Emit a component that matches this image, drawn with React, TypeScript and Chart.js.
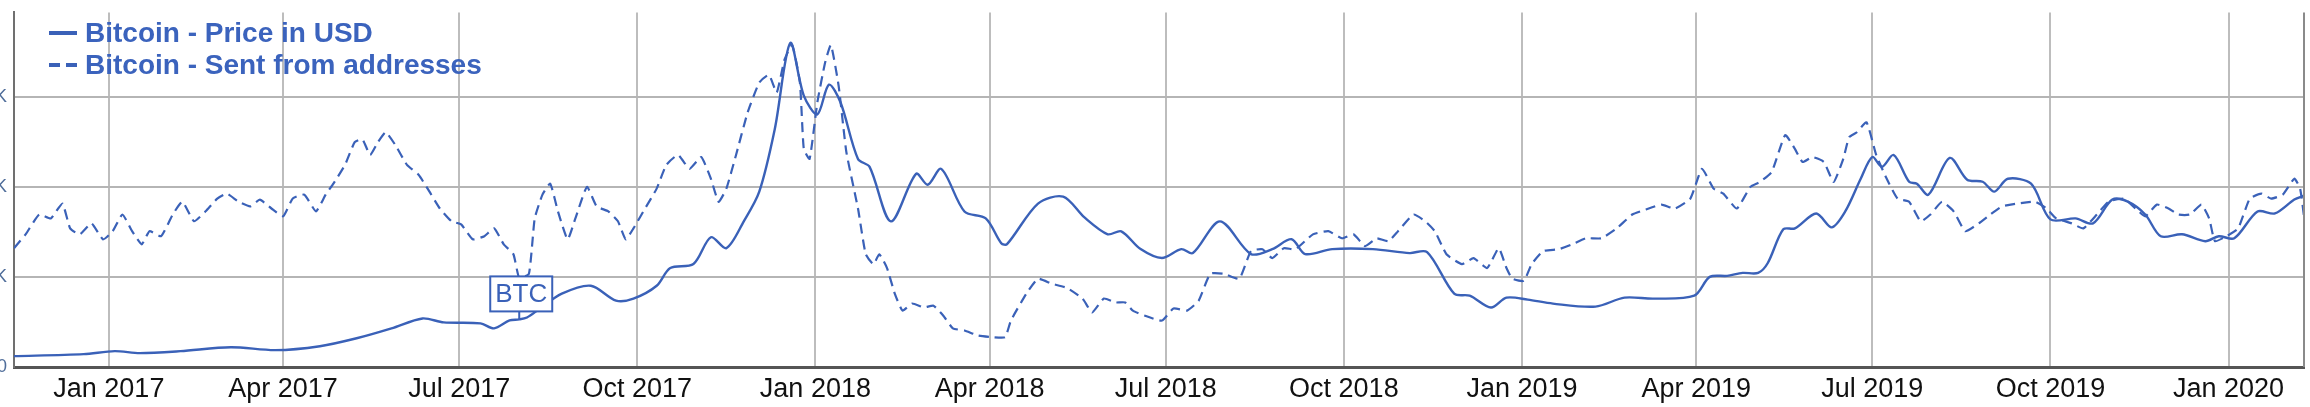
import React, { useEffect, useRef } from "react";
import { Chart, registerables } from "chart.js";

Chart.register(...registerables);

// x values are days counted from 1 Jan 2017
const quarterDays = [0, 90, 181, 273, 365, 455, 546, 638, 730, 820, 911, 1003, 1095];
const quarterLabels = [
  "Jan 2017", "Apr 2017", "Jul 2017", "Oct 2017", "Jan 2018", "Apr 2018", "Jul 2018",
  "Oct 2018", "Jan 2019", "Apr 2019", "Jul 2019", "Oct 2019", "Jan 2020",
];
const xMinDay = -49;
const xMaxDay = 1134;

const seriesLabels = ["Bitcoin - Price in USD", "Bitcoin - Sent from addresses"];

// Price in USD
const priceDays = [
  -49, -13, 3, 16, 37, 63, 86, 109, 128, 146,
  162, 173, 192, 199, 207, 212, 216, 222, 234, 249,
  262, 271, 283, 290, 302, 311, 319, 328, 336, 344,
  352, 359, 366, 372, 378, 387, 393, 404, 417, 423,
  430, 442, 453, 461, 464, 480, 493, 504, 516, 523,
  533, 544, 554, 560, 574, 590, 601, 611, 618, 632,
  653, 672, 681, 695, 703, 714, 722, 733, 746, 768,
  783, 798, 819, 827, 836, 844, 852, 857, 865, 871,
  882, 890, 897, 905, 911, 916, 922, 930, 934, 940,
  951, 960, 968, 974, 981, 993, 1003, 1016, 1025, 1035,
  1043, 1052, 1060, 1071, 1083, 1090, 1098, 1110, 1119, 1129,
  1134,
];
const priceValues = [
  604, 714, 879, 769, 879, 1099, 934, 1154, 1594, 2143,
  2693, 2473, 2418, 2143, 2583, 2640, 2748, 3187, 4066, 4506,
  3682, 3792, 4506, 5495, 5715, 7198, 6594, 8078, 9726, 13188,
  17969, 15056, 14012, 15661, 14672, 11540, 11100, 8078, 10715, 10111,
  10990, 8627, 8243, 6869, 6814, 9067, 9451, 8297, 7363, 7528,
  6539, 6045, 6539, 6319, 8078, 6264, 6539, 7089, 6264, 6539,
  6539, 6319, 6374, 4066, 3956, 3297, 3847, 3737, 3517, 3352,
  3847, 3792, 3956, 5000, 5055, 5220, 5220, 5770, 7638, 7693,
  8517, 7748, 8627, 10441, 11649, 11100, 11759, 10276, 10166, 9561,
  11594, 10386, 10276, 9726, 10441, 10166, 8187, 8243, 7968, 9287,
  9177, 8462, 7253, 7363, 6979, 7253, 7144, 8627, 8517, 9287,
  9506,
];

// Sent from addresses (thousands)
const sentDays = [
  -49, -43, -36, -30, -24, -20, -15, -9, -3, 2,
  7, 12, 17, 21, 27, 33, 38, 44, 50, 56,
  61, 67, 73, 78, 84, 90, 95, 101, 107, 112,
  116, 122, 127, 131, 135, 139, 143, 148, 154, 160,
  165, 171, 177, 182, 188, 194, 199, 204, 209, 212,
  217, 220, 224, 228, 232, 237, 241, 247, 252, 258,
  263, 267, 271, 277, 283, 288, 294, 300, 306, 311,
  315, 319, 324, 330, 336, 341, 345, 349, 353, 357,
  359, 362, 366, 370, 373, 377, 381, 387, 391, 395,
  398, 402, 406, 410, 415, 421, 426, 431, 436, 442,
  449, 457, 463, 466, 474, 480, 487, 495, 503, 508,
  514, 520, 525, 529, 535, 544, 550, 557, 563, 569,
  576, 584, 590, 596, 601, 607, 613, 622, 630, 637,
  643, 649, 655, 661, 666, 674, 680, 685, 691, 699,
  705, 712, 718, 722, 725, 731, 735, 741, 749, 756,
  763, 771, 779, 787, 794, 802, 809, 817, 823, 829,
  834, 841, 848, 853, 859, 866, 871, 875, 880, 886,
  891, 896, 899, 903, 908, 913, 918, 924, 930, 936,
  941, 947, 953, 959, 966, 972, 978, 986, 995, 1001,
  1006, 1014, 1020, 1027, 1033, 1041, 1047, 1052, 1058, 1064,
  1069, 1075, 1081, 1085, 1088, 1094, 1100, 1106, 1112, 1117,
  1123, 1129, 1132, 1134,
];
const sentValues = [
  535, 574, 630, 619, 661, 591, 574, 605, 560, 583,
  630, 583, 546, 583, 569, 630, 666, 611, 639, 675,
  689, 666, 653, 672, 647, 625, 675, 686, 639, 686,
  717, 770, 834, 842, 798, 834, 862, 826, 770, 742,
  700, 647, 611, 602, 560, 569, 591, 546, 518, 451,
  463, 619, 686, 717, 639, 560, 619, 708, 653, 639,
  611, 560, 591, 647, 703, 770, 798, 759, 792, 731,
  666, 703, 798, 918, 1002, 1024, 974, 1066, 1108, 1002,
  815, 787, 946, 1058, 1108, 993, 806, 647, 518, 490,
  518, 479, 407, 359, 379, 368, 373, 345, 309, 303,
  289, 284, 284, 331, 407, 449, 435, 423, 393, 354,
  393, 382, 382, 359, 345, 331, 365, 359, 387, 463,
  463, 449, 527, 532, 507, 535, 532, 574, 583, 563,
  574, 541, 563, 555, 583, 630, 611, 583, 518, 490,
  507, 479, 535, 479, 449, 443, 490, 527, 532, 546,
  563, 563, 591, 630, 644, 658, 647, 675, 759, 703,
  689, 647, 708, 722, 750, 854, 815, 778, 792, 778,
  722, 787, 848, 862, 890, 798, 736, 675, 666, 611,
  630, 666, 639, 583, 605, 630, 653, 661, 666, 647,
  619, 605, 591, 630, 666, 675, 647, 625, 658, 647,
  630, 630, 658, 619, 555, 569, 591, 675, 689, 675,
  686, 731, 703, 625,
];

const priceTicks = [0, 5000, 10000, 15000];
const priceTickLabels = ["0", "5K", "10K", "15K"];

const btcDay = 212;
const btcLabel = "BTC";

const BLUE = "#3a61b8";
const FONT = '"Liberation Sans", Arial, Helvetica, sans-serif';

const decorPlugin = {
  id: "decor",
  afterDatasetsDraw(chart: any) {
    const { ctx, chartArea, scales } = chart;
    const { left, right, top, bottom } = chartArea;
    ctx.save();
    // right frame line
    ctx.strokeStyle = "#8a8a8a";
    ctx.lineWidth = 2;
    ctx.setLineDash([]);
    ctx.beginPath();
    ctx.moveTo(right, top);
    ctx.lineTo(right, bottom);
    ctx.stroke();

    // BTC annotation anchored on the price line
    const idx = priceDays.indexOf(btcDay);
    const px = scales.x.getPixelForValue(btcDay);
    const py = scales.y.getPixelForValue(priceValues[idx]);
    const bw = 62;
    const bh = 35;
    const bx = px - bw / 2 + 2;
    const by = py - 8 - bh;
    ctx.strokeStyle = BLUE;
    ctx.lineWidth = 2;
    ctx.beginPath();
    ctx.moveTo(px, py);
    ctx.lineTo(px, by + bh);
    ctx.stroke();
    ctx.fillStyle = "#ffffff";
    ctx.fillRect(bx, by, bw, bh);
    ctx.strokeRect(bx, by, bw, bh);
    ctx.fillStyle = BLUE;
    ctx.font = `26px ${FONT}`;
    ctx.textAlign = "center";
    ctx.textBaseline = "middle";
    ctx.fillText(btcLabel, bx + bw / 2, by + bh / 2 + 1);

    // legend
    const dashes = [[], [11, 6]];
    ctx.font = `bold 28px ${FONT}`;
    ctx.textAlign = "left";
    seriesLabels.forEach((label, i) => {
      const ly = 33 + i * 32;
      ctx.strokeStyle = BLUE;
      ctx.lineWidth = 4;
      ctx.setLineDash(dashes[i]);
      ctx.beginPath();
      ctx.moveTo(left + 35, ly);
      ctx.lineTo(left + 63, ly);
      ctx.stroke();
      ctx.setLineDash([]);
      ctx.fillStyle = "#3b63bd";
      ctx.fillText(label, left + 71, ly + 1);
    });
    ctx.restore();
  },
};

export default function App() {
  const ref = useRef<HTMLCanvasElement | null>(null);

  useEffect(() => {
    document.body.style.margin = "0";
    const canvas = ref.current;
    if (!canvas) return;
    const chart = new Chart(canvas, {
      type: "line",
      data: {
        datasets: [
          {
            label: seriesLabels[0],
            data: priceDays.map((d, i) => ({ x: d, y: priceValues[i] })),
            borderColor: BLUE,
            borderWidth: 2.4,
            pointRadius: 0,
            tension: 0.3,
            fill: false,
            yAxisID: "y",
          },
          {
            label: seriesLabels[1],
            data: sentDays.map((d, i) => ({ x: d, y: sentValues[i] })),
            borderColor: BLUE,
            borderWidth: 2.2,
            borderDash: [10, 6],
            pointRadius: 0,
            tension: 0.15,
            fill: false,
            yAxisID: "y1",
          },
        ],
      },
      options: {
        animation: false,
        responsive: false,
        devicePixelRatio: 1,
        layout: { padding: { left: 0, right: 6, top: 9, bottom: 0 } },
        plugins: { legend: { display: false }, tooltip: { enabled: false } },
        scales: {
          x: {
            type: "linear",
            min: xMinDay,
            max: xMaxDay,
            afterBuildTicks: (scale: any) => {
              scale.ticks = quarterDays.map((v) => ({ value: v }));
            },
            afterFit: (scale: any) => {
              scale.height = 40;
            },
            ticks: {
              autoSkip: false,
              maxRotation: 0,
              padding: 6,
              color: "#111111",
              font: { family: FONT, size: 27 },
              callback: (v: any) => {
                const i = quarterDays.indexOf(Number(v));
                return i >= 0 ? quarterLabels[i] : "";
              },
            },
            grid: { color: "#bdbdbd", lineWidth: 2, drawTicks: false },
            border: { display: true, color: "#555555", width: 3 },
          },
          y: {
            type: "linear",
            position: "left",
            min: 0,
            max: 19670,
            afterBuildTicks: (scale: any) => {
              scale.ticks = priceTicks.map((v) => ({ value: v }));
            },
            afterFit: (scale: any) => {
              scale.width = 54;
            },
            ticks: {
              padding: 7,
              color: "#4f6d9a",
              font: { family: FONT, size: 18, lineHeight: 0.6 },
              callback: (v: any) => {
                const i = priceTicks.indexOf(Number(v));
                return i >= 0 ? priceTickLabels[i] : "";
              },
            },
            grid: {
              color: (c: any) => (c.tick && c.tick.value === 0 ? "rgba(0,0,0,0)" : "#b5b5b5"),
              lineWidth: 2,
              drawTicks: false,
            },
            border: { display: true, color: "#707070", width: 2 },
          },
          y1: {
            type: "linear",
            display: false,
            min: 200,
            max: 1200,
          },
        },
      },
      plugins: [decorPlugin],
    });
    return () => chart.destroy();
  }, []);

  return (
    <div style={{ position: "relative", width: 2310, height: 407, overflow: "hidden" }}>
      <canvas
        ref={ref}
        width={2350}
        height={407}
        style={{ position: "absolute", left: -40, top: 0, width: 2350, height: 407 }}
      />
    </div>
  );
}
